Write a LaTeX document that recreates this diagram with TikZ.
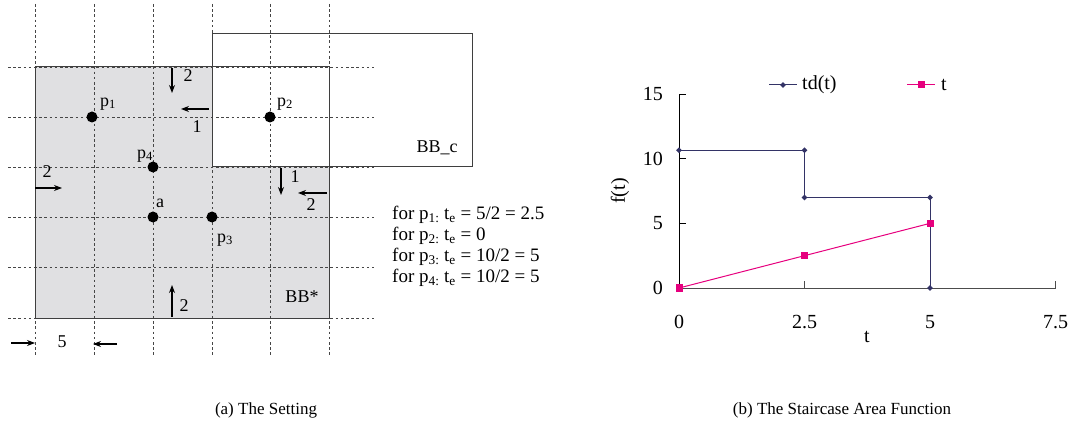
\documentclass[tikz,border=0pt]{standalone}
\usepackage{fontspec}
\setmainfont{Liberation Serif}
\usetikzlibrary{arrows.meta,shapes.geometric}
\definecolor{shadec}{RGB}{224,224,226}
\definecolor{gridc}{RGB}{70,70,70}
\definecolor{navyc}{RGB}{51,51,102}
\definecolor{pinkc}{RGB}{230,0,126}
\begin{document}
\begin{tikzpicture}[x=1pt,y=-1pt,
  gridline/.style={gridc,line width=0.9pt,dash pattern=on 2.6pt off 2.6pt},
  boxline/.style={draw=gridc!90!black,line width=1pt},
  dot/.style={circle,fill=black,inner sep=0pt,minimum size=11pt},
  lab/.style={inner sep=0pt,font=\fontsize{18}{20}\selectfont},
  arr/.style={-{Stealth[length=8pt,width=6pt]},line width=1.1pt},
  note/.style={inner sep=0pt,anchor=west,font=\fontsize{19}{21}\selectfont},
  chart/.style={inner sep=0pt,font=\fontsize{20}{22}\selectfont},
  captext/.style={inner sep=0pt,font=\fontsize{17}{20}\selectfont},
  tdline/.style={navyc,line width=1pt},
  tline/.style={pinkc,line width=1pt},
  diam/.style={diamond,fill=navyc,inner sep=0pt,minimum size=6pt},
  sq/.style={rectangle,fill=pinkc,inner sep=0pt,minimum size=7pt}]
\useasboundingbox (0,0) rectangle (1073,438);
% ---------------- (a) ----------------
\fill[shadec] (35,67) -- (212,67) -- (212,167) -- (329,167) -- (329,318) -- (35,318) -- cycle;
\foreach \x in {35,94,153,212,270,329} \draw[gridline] (\x,4) -- (\x,357);
\foreach \y in {67,117,167,217,267,318} \draw[gridline] (8,\y) -- (374,\y);
\draw[boxline] (35,67) rectangle (329,318);
\draw[boxline] (212,34) rectangle (472,167);
\node[dot] (p1) at (92,117) {};
\node[dot] (p2) at (270,117) {};
\node[dot] (p4) at (153,167) {};
\node[dot] (a) at (153,217) {};
\node[dot] (p3) at (212,217) {};
\node[lab] (lp1) at (108,104) {p\textsubscript{1}};
\node[lab] (lp2) at (285,104) {p\textsubscript{2}};
\node[lab] (lp4) at (145,156) {p\textsubscript{4}};
\node[lab] (la) at (160,203) {a};
\node[lab] (lp3) at (225,240) {p\textsubscript{3}};
\node[lab] (lbb) at (302,297) {BB*};
\node[lab] (lbc) at (437,148) {BB\_c};
% arrows
\coordinate (a1s) at (172,68); \coordinate (a1e) at (172,93);
\coordinate (a2s) at (209,109); \coordinate (a2e) at (181,109);
\coordinate (a3s) at (35,188); \coordinate (a3e) at (62,188);
\coordinate (a4s) at (281,168); \coordinate (a4e) at (281,195);
\coordinate (a5s) at (327,193); \coordinate (a5e) at (298,193);
\coordinate (a6s) at (172,317); \coordinate (a6e) at (172,285);
\coordinate (a7s) at (11,343); \coordinate (a7e) at (35,343);
\coordinate (a8s) at (117,344); \coordinate (a8e) at (93,344);
\foreach \i in {1,...,8} \draw[arr] (a\i s) -- (a\i e);
\node[lab] (n1) at (188,76) {2};
\node[lab] (n2) at (197,127) {1};
\node[lab] (n3) at (47,172) {2};
\node[lab] (n4) at (295,177) {1};
\node[lab] (n5) at (311,205) {2};
\node[lab] (n6) at (184,306) {2};
\node[lab] (n7) at (62,342) {5};
% notes
\node[note] (t1) at (392,215) {for p\textsubscript{1:} t\textsubscript{e} = 5/2 = 2.5};
\node[note] (t2) at (392,236) {for p\textsubscript{2:} t\textsubscript{e} = 0};
\node[note] (t3) at (392,257) {for p\textsubscript{3:} t\textsubscript{e} = 10/2 = 5};
\node[note] (t4) at (392,278) {for p\textsubscript{4:} t\textsubscript{e} = 10/2 = 5};
\node[captext] (capa) at (266,410) {(a) The Setting};
% ---------------- (b) ----------------
\begin{scope}[shift={(679pt,-288pt)},x=50.2pt,y=12.93pt]
  \coordinate (o) at (0,0);
  \coordinate (ytop) at (0,15);
  \coordinate (xend) at (7.5,0);
  \draw[black,line width=1pt] (o) -- (ytop);
  \draw[black!70,line width=1pt] (o) -- (xend);
  \foreach \v in {5,10,15} \draw[black,line width=1pt] (0,\v) -- ++(7pt,0);
  \foreach \u in {2.5,5,7.5} \draw[black!70,line width=1pt] (\u,0) -- ++(0,7pt);
  \foreach \v in {0,5,10,15} \node[chart,anchor=east] at ([xshift=-16pt]0,\v) {\v};
  \foreach \u in {0,2.5,5,7.5} \node[chart] at ([yshift=-34pt]\u,0) {\u};
  \coordinate (d1) at (0,10.65);
  \coordinate (d2) at (2.5,10.65);
  \coordinate (d3) at (2.5,7);
  \coordinate (d4) at (5,7);
  \coordinate (d5) at (5,0);
  \draw[tdline] (d1) -- (d2) -- (d3) -- (d4) -- (d5);
  \foreach \i in {1,...,5} \node[diam] at (d\i) {};
  \coordinate (s1) at (0,0);
  \coordinate (s2) at (2.5,2.5);
  \coordinate (s3) at (5,5);
  \draw[tline] (s1) -- (s2) -- (s3);
  \foreach \i in {1,2,3} \node[sq] at (s\i) {};
\end{scope}
\node[chart] (xl) at (867,337) {t};
\node[chart,rotate=90] (yl) at (620,191) {f(t)};
% legend
\coordinate (lg1s) at (769,85); \coordinate (lg1e) at (797,85);
\draw[tdline] (lg1s) -- (lg1e);
\node[diam] (lg1m) at (783,85) {};
\node[chart,anchor=west] (lg1t) at (802,85) {td(t)};
\coordinate (lg2s) at (907,85); \coordinate (lg2e) at (935,85);
\draw[tline] (lg2s) -- (lg2e);
\node[sq] (lg2m) at (921,85) {};
\node[chart,anchor=west] (lg2t) at (941,85) {t};
\node[captext] (capb) at (842,410) {(b) The Staircase Area Function};
\end{tikzpicture}
\end{document}
